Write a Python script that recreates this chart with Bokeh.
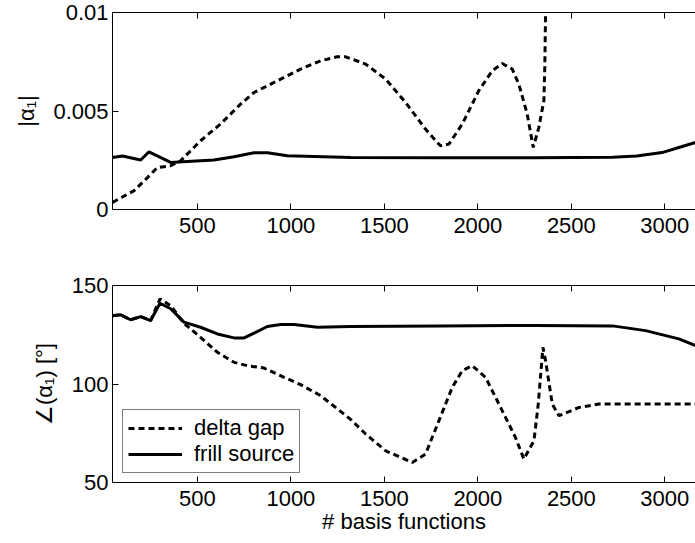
from bokeh.plotting import figure
from bokeh.layouts import column
from bokeh.models import FixedTicker, LinearAxis, Range1d, Legend, LegendItem
from bokeh.embed import file_html
from bokeh.resources import INLINE

# ---------------- data ----------------
x_ticks = [500, 1000, 1500, 2000, 2500, 3000]
y_ticks_top = [0, 0.005, 0.01]
y_labels_top = ["0", "0.005", "0.01"]
y_ticks_bot = [50, 100, 150]

x_fs_top = [46, 99, 197, 241, 357, 446, 589, 696, 803, 874, 981, 1320, 1800, 2300, 2720, 2850, 2985, 3075, 3164]
fs_top = [0.00264, 0.00272, 0.00251, 0.00293, 0.00239, 0.00244, 0.00251, 0.00268, 0.00288, 0.00288,
          0.00273, 0.00264, 0.00263, 0.00263, 0.00265, 0.00272, 0.00289, 0.00315, 0.0034]

x_dg_top = [46, 161, 233, 286, 357, 410, 517, 624, 731, 803, 910, 1052, 1159, 1248, 1293, 1400, 1507,
            1614, 1720, 1800, 1845, 1917, 2005, 2077, 2130, 2184, 2219, 2264, 2296, 2326, 2353, 2358, 2362, 2370]
dg_top = [0.00036, 0.00095, 0.00162, 0.00213, 0.00222, 0.00247, 0.00349, 0.00434, 0.00535, 0.00594,
          0.00645, 0.00713, 0.00755, 0.00775, 0.00775, 0.00738, 0.00662, 0.00543, 0.00408, 0.00323,
          0.00332, 0.00434, 0.00603, 0.00704, 0.00741, 0.00713, 0.00637, 0.00484, 0.00315, 0.00416,
          0.00552, 0.00721, 0.00992, 0.0125]

x_fs_bot = [46, 90, 143, 197, 250, 300, 357, 428, 517, 607, 696, 750, 803, 874, 946, 1017, 1142, 1320,
            1800, 2300, 2720, 2897, 3075, 3164]
fs_bot = [134.7, 135.1, 132.6, 134.2, 132.2, 141.0, 138.2, 131.4, 128.8, 125.4, 123.4, 123.4, 125.8,
          129.2, 130.2, 130.2, 128.8, 129.2, 129.5, 129.7, 129.5, 127.1, 122.9, 119.5]

x_dg_bot = [46, 90, 143, 197, 250, 300, 357, 428, 517, 607, 696, 767, 856, 963, 1052, 1159, 1320, 1400,
            1507, 1650, 1720, 1792, 1863, 1917, 1970, 2041, 2130, 2201, 2246, 2300, 2323, 2348, 2362,
            2398, 2434, 2541, 2648, 3164]
dg_bot = [134.7, 135.1, 132.6, 134.2, 132.2, 143.2, 139.8, 130.8, 123.7, 116.1, 111.0, 109.3, 108.1,
          103.4, 99.7, 94.1, 82.0, 74.6, 66.1, 60.2, 64.4, 81.4, 98.3, 106.8, 109.3, 103.4, 86.5, 72.9,
          61.9, 71.2, 89.8, 118.6, 111.9, 89.8, 83.9, 88.1, 89.8, 89.8]

FONT = "Liberation Sans"
FS = "22px"
X_START, X_END = 46, 3164


def style_axis(ax, ticks):
    ax.ticker = FixedTicker(ticks=ticks)
    ax.minor_tick_line_color = None
    ax.major_tick_in = 6
    ax.major_tick_out = 0
    ax.axis_line_color = "black"
    ax.major_tick_line_color = "black"
    ax.major_label_text_font = FONT
    ax.major_label_text_font_size = FS
    ax.major_label_text_color = "black"
    ax.axis_label_text_font = FONT
    ax.axis_label_text_font_size = FS
    ax.axis_label_text_font_style = "normal"
    ax.axis_label_text_color = "black"


def make_fig(height, y_range, top_border, bottom_border):
    p = figure(width=695, height=height, x_range=Range1d(X_START, X_END), y_range=y_range,
               output_backend="svg", toolbar_location=None,
               min_border_left=112, min_border_right=0,
               min_border_top=top_border, min_border_bottom=bottom_border)
    p.outline_line_color = None
    p.xgrid.visible = False
    p.ygrid.visible = False
    bottom_ax = p.below[0]
    style_axis(bottom_ax, x_ticks)
    bottom_ax.major_label_standoff = 8
    top_ax = LinearAxis()
    style_axis(top_ax, x_ticks)
    top_ax.major_label_overrides = {t: "" for t in x_ticks}
    top_ax.major_label_text_font_size = "1px"
    top_ax.major_label_standoff = 0
    p.add_layout(top_ax, "above")
    left_ax = p.left[0]
    return p, bottom_ax, left_ax


# ---------------- top plot ----------------
p1, bx1, ly1 = make_fig(250, Range1d(0, 0.01), 12, 41)
style_axis(ly1, y_ticks_top)
ly1.major_label_overrides = {t: l for t, l in zip(y_ticks_top, y_labels_top)}
ly1.major_label_standoff = 4
ly1.axis_label = "|α₁|"
ly1.axis_label_standoff = 11
p1.line(x_dg_top, dg_top, line_color="black", line_width=3, line_dash="6 4")
p1.line(x_fs_top, fs_top, line_color="black", line_width=3)

# ---------------- bottom plot ----------------
p2, bx2, ly2 = make_fig(293, Range1d(50, 150), 35, 61)
style_axis(ly2, y_ticks_bot)
ly2.major_label_standoff = 4
ly2.axis_label = "∠(α₁) [°]"
ly2.axis_label_standoff = 12
bx2.axis_label = "# basis functions"
bx2.axis_label_standoff = 0
r_dg = p2.line(x_dg_bot, dg_bot, line_color="black", line_width=3, line_dash="6 4")
r_fs = p2.line(x_fs_bot, fs_bot, line_color="black", line_width=3)

legend = Legend(items=[LegendItem(label="delta gap", renderers=[r_dg]),
                       LegendItem(label="frill source", renderers=[r_fs])],
                location=(10, 9))
legend.label_text_font = FONT
legend.label_text_font_size = FS
legend.label_text_color = "black"
legend.border_line_color = "black"
legend.border_line_width = 1
legend.background_fill_alpha = 1
legend.glyph_width = 54
legend.glyph_height = 20
legend.label_height = 20
legend.label_standoff = 12
legend.spacing = 0
legend.padding = 5
legend.margin = 0
p2.add_layout(legend)

layout = column(p1, p2, spacing=0)
open("out.html", "w").write(file_html(layout, INLINE))
